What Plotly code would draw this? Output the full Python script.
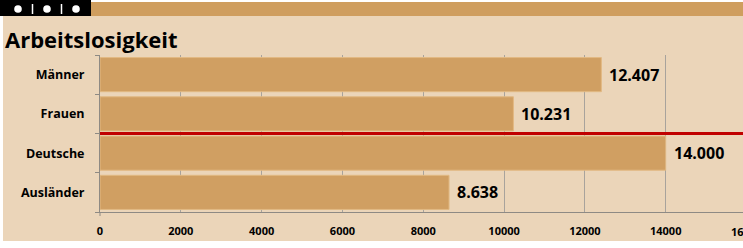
import plotly.graph_objects as go

# ---- data ----
categories = ["Männer", "Frauen", "Deutsche", "Ausländer"]
values = [12407, 10231, 14000, 8638]
tick_vals = [0, 2000, 4000, 6000, 8000, 10000, 12000, 14000, 16000]
tick_text = ["0", "2000", "4000", "6000", "8000", "10000", "12000", "14000", "16000"]
title_text = "Arbeitslosigkeit"

W, H = 743, 248
ML, MR, MT, MB = 100, 0, 55, 36
PW, PH = W - ML - MR, H - MT - MB
X_MAX = 15913

BG = "#EBD5B9"
BAR = "#D09F62"
BAR_EDGE = "#E2B983"
BAND = "#CF9E5F"
GRID = "#A8A39C"
AXIS = "#8E8A84"
FONT = "Open Sans"


def px(x):
    return (x - ML) / PW


def py(y):
    return (H - MB - y) / PH


def fmt(v):
    return f"{v:,}".replace(",", ".")


fig = go.Figure()
fig.add_trace(go.Bar(
    x=values, y=categories, orientation="h",
    marker=dict(color=BAR, line=dict(color=BAR_EDGE, width=1)),
    hoverinfo="skip",
))

shapes = []
# panel background
shapes.append(dict(type="rect", xref="paper", yref="paper", x0=px(3), x1=px(W + 5),
                   y0=py(241), y1=py(16), fillcolor=BG, line=dict(width=0), layer="below"))
# top black box and band
shapes.append(dict(type="rect", xref="paper", yref="paper", x0=px(-2), x1=px(91),
                   y0=py(16), y1=py(-2), fillcolor="#000000", line=dict(width=0), layer="above"))
shapes.append(dict(type="rect", xref="paper", yref="paper", x0=px(91), x1=px(W + 5),
                   y0=py(16), y1=py(2), fillcolor=BAND, line=dict(width=0), layer="above"))
for cx in [18, 47, 76]:
    shapes.append(dict(type="circle", xref="paper", yref="paper", x0=px(cx - 3.8), x1=px(cx + 3.8),
                       y0=py(9 + 3.8), y1=py(9 - 3.8), fillcolor="#FFFFFF",
                       line=dict(width=0), layer="above"))
for sx in [32.5, 61.5]:
    shapes.append(dict(type="line", xref="paper", yref="paper", x0=px(sx), x1=px(sx),
                       y0=py(14), y1=py(4), line=dict(color="#FFFFFF", width=1.5), layer="above"))
# red separator line between Frauen and Deutsche
shapes.append(dict(type="line", xref="paper", yref="y", x0=0, x1=px(W + 5), y0=1.5, y1=1.5,
                   line=dict(color="#C00000", width=3), layer="above"))
# y-axis extension below x-axis
shapes.append(dict(type="line", xref="paper", yref="paper", x0=0, x1=0, y0=py(216), y1=0,
                   line=dict(color=AXIS, width=1), layer="above"))

annotations = []
annotations.append(dict(text=f"<b>{title_text}</b>", xref="paper", yref="paper",
                        x=px(3), y=py(39), xanchor="left", yanchor="middle", showarrow=False,
                        font=dict(family=FONT, size=22, color="#000000")))
for c, v in zip(categories, values):
    annotations.append(dict(text=f"<b>{fmt(v)}</b>", x=v, y=c, xref="x", yref="y",
                            xanchor="left", yanchor="middle", xshift=6, showarrow=False,
                            font=dict(family=FONT, size=16, color="#000000")))
# last tick label lies beyond the visible window edge
annotations.append(dict(text=f"<b>{tick_text[-1]}</b>", xref="paper", yref="paper",
                        x=px(ML + tick_vals[-1] * PW / X_MAX), y=py(231),
                        xanchor="center", yanchor="middle", showarrow=False,
                        font=dict(family=FONT, size=11, color="#000000")))

fig.update_layout(
    width=W, height=H,
    margin=dict(l=ML, r=MR, t=MT, b=MB, pad=0),
    paper_bgcolor="#FFFFFF",
    plot_bgcolor=BG,
    showlegend=False,
    bargap=0.13,
    shapes=shapes,
    annotations=annotations,
    font=dict(family=FONT, color="#000000"),
    xaxis=dict(
        range=[0, X_MAX], tickvals=tick_vals[:-1], ticktext=[f"<b>{t}</b>" for t in tick_text[:-1]],
        showgrid=True, gridcolor=GRID, gridwidth=1, zeroline=False,
        showline=True, linecolor=AXIS, linewidth=1,
        ticks="", ticklabelstandoff=9,
        tickfont=dict(family=FONT, size=11, color="#000000"),
        fixedrange=True,
    ),
    yaxis=dict(
        categoryorder="array", categoryarray=categories, autorange="reversed",
        showgrid=False, zeroline=False,
        showline=True, linecolor=AXIS, linewidth=1,
        ticks="outside", tickson="boundaries", ticklen=4, tickcolor=AXIS,
        ticklabelstandoff=12,
        tickvals=categories, ticktext=[f"<b>{c}</b>" for c in categories],
        tickfont=dict(family=FONT, size=12.5, color="#000000"),
        fixedrange=True,
    ),
)

fig.write_html(
    "out.html",
    config={"displayModeBar": False},
    post_script="document.body.style.margin='0';document.body.style.overflow='hidden';",
)
